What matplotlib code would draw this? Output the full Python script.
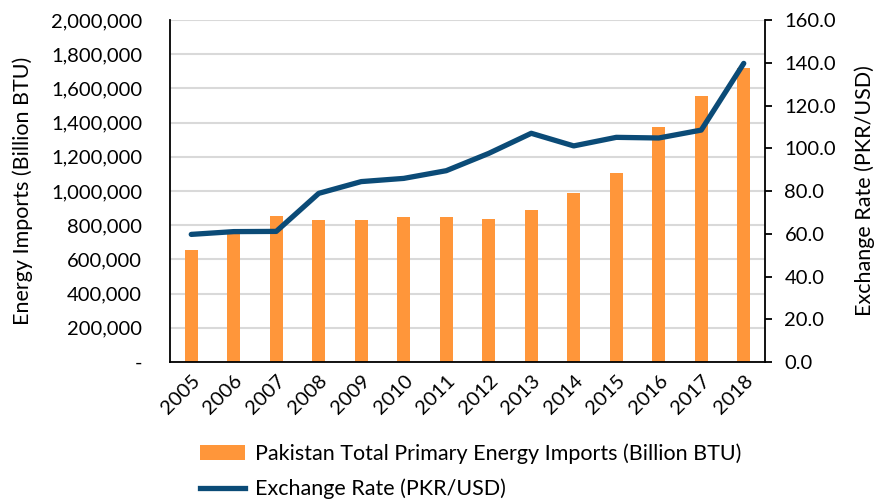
import matplotlib.pyplot as plt
import numpy as np
from matplotlib.ticker import FuncFormatter, MultipleLocator
from matplotlib.patches import Patch
from matplotlib.lines import Line2D

plt.rcParams['font.family'] = ['Lato', 'DejaVu Sans']

years = ['2005', '2006', '2007', '2008', '2009', '2010', '2011',
         '2012', '2013', '2014', '2015', '2016', '2017', '2018']
# Pakistan total primary energy imports (Billion BTU)
imports = [657000, 748000, 855000, 828000, 832000, 848000, 846000,
           834000, 889000, 986000, 1103000, 1374000, 1557000, 1717000]
# Exchange rate (PKR/USD)
rate = [59.7, 61.0, 61.1, 78.9, 84.4, 85.9, 89.5,
        97.6, 107.0, 101.1, 105.1, 104.8, 108.5, 139.7]

bar_color = '#FF963A'
line_color = '#0B4B77'

fig = plt.figure(figsize=(8.77, 5.03), dpi=100)
ax = fig.add_axes([170/877, 1 - 362/503, 595/877, 342/503])
x = np.arange(len(years))

ax.bar(x, imports, width=0.31, color=bar_color, zorder=2)
ax.set_xlim(-0.5, len(years) - 0.5)
ax.set_ylim(0, 2000000)
ax.yaxis.set_major_locator(MultipleLocator(200000))
ax.yaxis.set_major_formatter(FuncFormatter(lambda v, p: '-' if v == 0 else f'{int(v):,}'))
ax.grid(axis='y', color='#D9D9D9', linewidth=1.5, zorder=0)
ax.set_axisbelow(True)
ax.set_xticks(x)
ax.set_xticklabels(years, rotation=45, ha='right', rotation_mode='anchor')
ax.tick_params(axis='x', length=0, labelsize=14.5, pad=7)
ax.tick_params(axis='y', length=0, labelsize=14.5, pad=20)
ax.set_ylabel('Energy Imports (Billion BTU)', fontsize=15.5, labelpad=13)
for s in ['left', 'bottom']:
    ax.spines[s].set_color('black')
    ax.spines[s].set_linewidth(1.3)
ax.spines['top'].set_visible(False)
ax.spines['right'].set_visible(False)

ax2 = ax.twinx()
ax2.plot(x, rate, color=line_color, linewidth=3.8, solid_capstyle='round',
         solid_joinstyle='round', zorder=3)
ax2.set_ylim(0, 160)
ax2.yaxis.set_major_locator(MultipleLocator(20))
ax2.yaxis.set_major_formatter(FuncFormatter(lambda v, p: f'{v:.1f}'))
ax2.tick_params(axis='y', length=5, width=1.3, labelsize=14.5, pad=9)
ax2.set_ylabel('Exchange Rate (PKR/USD)', fontsize=15.5, labelpad=13)
for s in ['top', 'left', 'bottom']:
    ax2.spines[s].set_visible(False)
ax2.spines['right'].set_linewidth(1.3)

handles = [Patch(facecolor=bar_color, edgecolor='none'),
           Line2D([0], [0], color=line_color, linewidth=3.8)]
labels = ['Pakistan Total Primary Energy Imports (Billion BTU)',
          'Exchange Rate (PKR/USD)']
fig.legend(handles, labels, loc='upper left', bbox_to_anchor=(200/877, 1 - 443/503),
           frameon=False, fontsize=15.5, handlelength=2.1, handletextpad=0.45,
           labelspacing=0.7, borderaxespad=0, borderpad=0)

fig.savefig('out.png', dpi=100)
